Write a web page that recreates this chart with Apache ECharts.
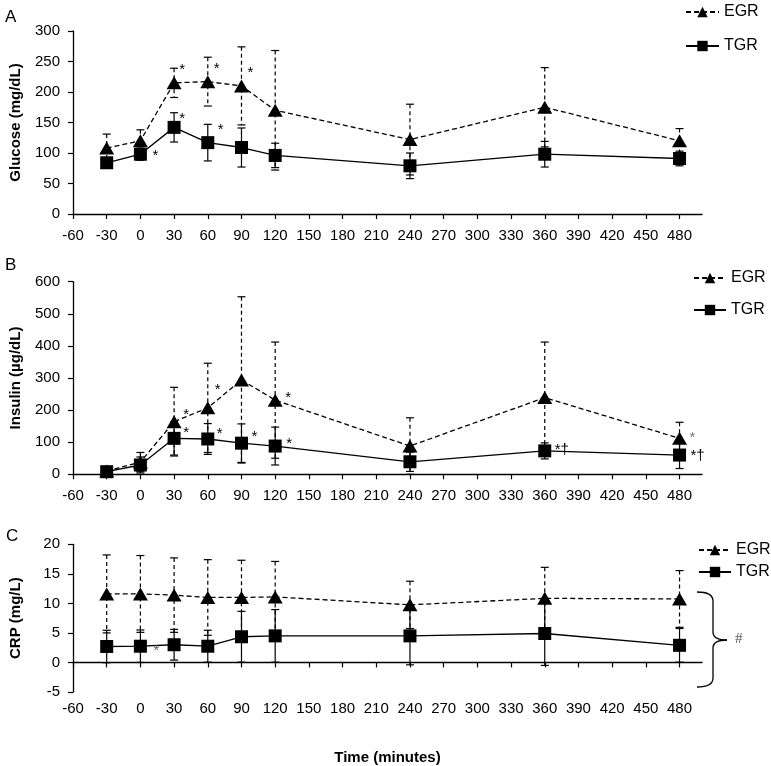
<!DOCTYPE html>
<html><head><meta charset="utf-8">
<script src="https://cdn.jsdelivr.net/npm/echarts@6/dist/echarts.min.js"></script>
<style>html,body{margin:0;padding:0;background:#fff}#c{width:771px;height:766px}</style>
</head><body><div id="c"></div>
<script>
// ---- DATA ----
const times = [-30, 0, 30, 60, 90, 120, 240, 360, 480];
const xTickValues = [-60,-30,0,30,60,90,120,150,180,210,240,270,300,330,360,390,420,450,480];

const glucoseEGR    = [108, 120, 215, 217, 210, 170, 122, 175, 120];
const glucoseEGRErr = [23, 18, 24, 40, 64, 98, 58, 65, 20];
const glucoseTGR    = [84, 98, 142, 117, 109, 96, 79, 98, 91];
const glucoseTGRErr = [8, 10, 24, 30, 32, 20, 21, 21, 12];

const insulinEGR    = [10, 38, 164, 207, 294, 231, 88, 239, 112];
const insulinEGRErr = [15, 30, 107, 139, 259, 181, 88, 173, 50];
const insulinTGR    = [8, 29, 112, 110, 97, 88, 39, 73, 60];
const insulinTGRErr = [10, 25, 52, 48, 60, 59, 30, 25, 42];

const crpEGR    = [11.6, 11.6, 11.4, 11.0, 11.0, 11.1, 9.75, 10.85, 10.75];
const crpEGRErr = [6.6, 6.5, 6.3, 6.4, 6.3, 6.0, 4.0, 5.25, 4.8];
const crpTGR    = [2.7, 2.75, 3.0, 2.75, 4.35, 4.5, 4.5, 4.9, 2.9];
const crpTGRErr = [2.75, 2.75, 2.6, 2.7, 4.3, 4.45, 4.9, 5.4, 2.85];

// significance marks: index into times -> text
const glucoseEGRMarks = {2:'*', 3:'*', 4:'*'};
const glucoseTGRMarks = {1:'*', 2:'*', 3:'*'};
const insulinEGRMarks = {2:'*', 3:'*', 5:'*', 8:'*'};
const insulinTGRMarks = {2:'*', 3:'*', 4:'*', 5:'*', 7:'*†', 8:'*†'};
const crpEGRMarks = {};
const crpTGRMarks = {1:'*'};

// ---- LAYOUT / STYLE ----
const FONT = '"Liberation Sans", Arial, sans-serif';
const markOffsets = {
  glucoseEGR: {2:[8,-13], 3:[9,-13], 4:[9,-13]},
  glucoseTGR: {1:[15,2], 2:[8,-9], 3:[13,-13]},
  insulinEGR: {2:[12,-7], 3:[10,-18], 5:[13,-2], 8:[13,0]},
  insulinTGR: {2:[12,-5], 3:[12,-5], 4:[13,-6], 5:[14,-2], 7:[17,-1], 8:[18,1]},
  crpEGR: {},
  crpTGR: {1:[16,5]}
};
const markColors = {insulinEGR:{8:'#777'}, crpTGR:{1:'#666'}};

const grids = [
  {left:68, top:31, width:634, height:183},
  {left:68, top:281.7, width:634, height:192.6},
  {left:68, top:544.3, width:634, height:191.4}
];
const yAxesCfg = [
  {min:0, max:300, interval:50, name:'Glucose (mg/dL)'},
  {min:0, max:600, interval:100, name:'Insulin (µg/dL)'},
  {min:-5, max:20, interval:5, name:'CRP (mg/L)'}
];
const labelMargins = [14, 14, 9];

function lineData(vals, marks, key){
  return vals.map((v,i)=>{
    const item = {value:[times[i], v]};
    if (marks[i]) {
      const off = markOffsets[key][i] || [12,0];
      const col = (markColors[key] && markColors[key][i]) || '#000';
      item.label = {show:true, formatter:marks[i], position:'inside', offset:off,
        fontSize:15, color:col, fontFamily:FONT};
    }
    return item;
  });
}
function errData(vals, errs){ return vals.map((v,i)=>[times[i], v, errs[i]]); }
function errRender(dashed){
  return function(params, api){
    const x = api.value(0), y = api.value(1), e = api.value(2);
    const t = api.coord([x, y+e]), b = api.coord([x, y-e]);
    const w = 4;
    const ls = {stroke:'#000', lineWidth:1.2, lineDash: dashed ? [4,3] : null, fill:null};
    const cs = {stroke:'#000', lineWidth:1.2, fill:null};
    return {type:'group', children:[
      {type:'line', shape:{x1:t[0], y1:t[1], x2:b[0], y2:b[1]}, style:ls},
      {type:'line', shape:{x1:t[0]-w, y1:t[1], x2:t[0]+w, y2:t[1]}, style:cs},
      {type:'line', shape:{x1:b[0]-w, y1:b[1], x2:b[0]+w, y2:b[1]}, style:cs}
    ]};
  };
}

const panels = [
  {egr:glucoseEGR, egrErr:glucoseEGRErr, tgr:glucoseTGR, tgrErr:glucoseTGRErr, em:glucoseEGRMarks, tm:glucoseTGRMarks, ek:'glucoseEGR', tk:'glucoseTGR'},
  {egr:insulinEGR, egrErr:insulinEGRErr, tgr:insulinTGR, tgrErr:insulinTGRErr, em:insulinEGRMarks, tm:insulinTGRMarks, ek:'insulinEGR', tk:'insulinTGR'},
  {egr:crpEGR, egrErr:crpEGRErr, tgr:crpTGR, tgrErr:crpTGRErr, em:crpEGRMarks, tm:crpTGRMarks, ek:'crpEGR', tk:'crpTGR'}
];

const xAxis = [], yAxis = [], series = [];
panels.forEach((p, gi)=>{
  xAxis.push({
    type:'value', gridIndex:gi, min:-60, max:500,
    axisLine:{onZero:true, lineStyle:{color:'#000', width:1.3}},
    axisTick:{show:true, length:5, customValues:xTickValues, lineStyle:{color:'#000', width:1.2}},
    axisLabel:{customValues:xTickValues, color:'#000', fontSize:15, fontFamily:FONT, margin:labelMargins[gi]},
    splitLine:{show:false},
    name: gi===2 ? 'Time (minutes)' : '',
    nameLocation:'middle', nameGap:58,
    nameTextStyle:{fontWeight:'bold', fontSize:15, color:'#000', fontFamily:FONT}
  });
  const yc = yAxesCfg[gi];
  yAxis.push({
    type:'value', gridIndex:gi, min:yc.min, max:yc.max, interval:yc.interval,
    axisLine:{show:true, onZero:false, lineStyle:{color:'#000', width:1.3}},
    axisTick:{show:true, length:5, lineStyle:{color:'#000', width:1.2}},
    axisLabel:{color:'#000', fontSize:15, fontFamily:FONT, margin:13},
    splitLine:{show:false},
    name:yc.name, nameLocation:'middle', nameGap:50,
    nameTextStyle:{fontWeight:'bold', fontSize:15, color:'#000', fontFamily:FONT}
  });
  series.push({
    type:'custom', name:'EGR err', xAxisIndex:gi, yAxisIndex:gi, z:1,
    renderItem:errRender(true), data:errData(p.egr, p.egrErr), encode:{x:0, y:1}, silent:true, clip:false
  });
  series.push({
    type:'custom', name:'TGR err', xAxisIndex:gi, yAxisIndex:gi, z:1,
    renderItem:errRender(false), data:errData(p.tgr, p.tgrErr), encode:{x:0, y:1}, silent:true, clip:false
  });
  series.push({
    type:'line', name:'EGR', xAxisIndex:gi, yAxisIndex:gi, z:3,
    data:lineData(p.egr, p.em, p.ek),
    symbol:'triangle', symbolSize:[15,13], showAllSymbol:true,
    itemStyle:{color:'#000'}, lineStyle:{color:'#000', width:1.3, type:[5,3]},
    emphasis:{disabled:true}, animation:false
  });
  series.push({
    type:'line', name:'TGR', xAxisIndex:gi, yAxisIndex:gi, z:4,
    data:lineData(p.tgr, p.tm, p.tk),
    symbol:'rect', symbolSize:13, showAllSymbol:true,
    itemStyle:{color:'#000'}, lineStyle:{color:'#000', width:1.3, type:'solid'},
    emphasis:{disabled:true}, animation:false
  });
});

const legendBase = {
  orient:'vertical', itemWidth:33, itemHeight:13, itemGap:18, data:['EGR','TGR'], padding:0,
  textStyle:{fontSize:16, color:'#000', fontFamily:FONT}, selectedMode:false
};
const legend = [
  Object.assign({}, legendBase, {left:685, top:4, itemGap:18, itemWidth:33}),
  Object.assign({}, legendBase, {left:693, top:270, itemGap:16, itemWidth:32}),
  Object.assign({}, legendBase, {left:698, top:542, itemGap:6, itemWidth:32})
];

const bs = {stroke:'#000', lineWidth:1.3, fill:null};
const graphic = [
  {type:'text', left:5, top:9, style:{text:'A', fill:'#000', font:'17px '+FONT}},
  {type:'text', left:5, top:257, style:{text:'B', fill:'#000', font:'17px '+FONT}},
  {type:'text', left:6, top:528, style:{text:'C', fill:'#000', font:'17px '+FONT}},
  {type:'bezierCurve', shape:{x1:697, y1:592, cpx1:713, cpy1:592, x2:713, y2:601}, style:bs},
  {type:'line', shape:{x1:713, y1:601, x2:713, y2:632}, style:bs},
  {type:'bezierCurve', shape:{x1:713, y1:632, cpx1:713, cpy1:640, x2:727, y2:640}, style:bs},
  {type:'bezierCurve', shape:{x1:727, y1:640, cpx1:713, cpy1:640, x2:713, y2:648}, style:bs},
  {type:'line', shape:{x1:713, y1:648, x2:713, y2:678}, style:bs},
  {type:'bezierCurve', shape:{x1:713, y1:678, cpx1:713, cpy1:687, x2:697, y2:687}, style:bs},
  {type:'text', left:735, top:632, style:{text:'#', font:'15px "Liberation Serif", serif', fill:'#555'}}
];

const chart = echarts.init(document.getElementById('c'), null, {renderer:'canvas'});
chart.setOption({
  animation:false, backgroundColor:'#fff',
  grid:grids, xAxis, yAxis, series, legend, graphic
});
</script></body></html>
